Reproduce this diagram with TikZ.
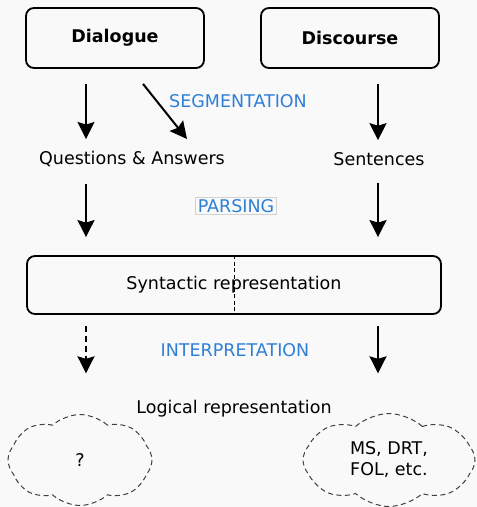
\documentclass[tikz,border=0pt]{standalone}
\usepackage{fontspec}
\setmainfont{DejaVu Sans}
\usetikzlibrary{shapes.symbols,arrows.meta}
\definecolor{stageblue}{HTML}{2E7FD6}
\definecolor{paper}{HTML}{F9F9F9}

\begin{document}
\begin{tikzpicture}[x=1pt,y=-1pt,every node/.style={inner sep=1pt},font=\fontsize{17.5}{21}\selectfont]
\tikzstyle{box}=[draw,line width=1.8pt,rounded corners=8pt,minimum width=178pt,minimum height=60pt,font=\fontsize{17.5}{21}\selectfont\bfseries]
\tikzstyle{arrow}=[draw,line width=2pt,-{Stealth[length=17pt,width=17pt,inset=2.5pt]}]
\tikzstyle{stage}=[text=stageblue]
\tikzstyle{cloudy}=[draw,dash pattern=on 5pt off 3.5pt,line width=1pt,gray!50!black,text=black,cloud,cloud puffs=8,cloud puff arc=85,cloud ignores aspect]
\useasboundingbox[fill=paper](0,0) rectangle (477,507);

\coordinate(lc) at (86,0);
\coordinate(rc) at (378,0);

\node[box](dia) at (115,38){Dialogue};
\node[box](dis) at (350,38){Discourse};
\node(qa) at (132,159){Questions \& Answers};
\node(sen) at (379,159){Sentences};
\node[box,font=\fontsize{17.5}{21}\selectfont,minimum width=414pt,minimum height=58pt](syn) at (234,285){Syntactic representation};
\node(log) at (234,409){Logical representation};
\node[cloudy,minimum width=144pt,minimum height=91pt](unk) at (80,460){?};
\node[cloudy,minimum width=172pt,minimum height=93pt,align=center](fol) at (389,460){MS, DRT,\\FOL, etc.};

\node[stage](seg) at (238,101){SEGMENTATION};
\node[stage,draw=gray!35,line width=0.6pt,inner sep=2pt](par) at (236,206){PARSING};
\node[stage](int) at (235,350){INTERPRETATION};

\draw[dash pattern=on 4pt off 2.5pt,line width=1pt](syn.north)--(syn.south);

\path[arrow,shorten <=15pt,shorten >=11pt](dia.south -| lc)--(qa.north -| lc);
\path[arrow,shorten <=15pt,shorten >=11pt](dis.south -| rc)--(sen.north -| rc);
\path[arrow]([xshift=28pt,yshift=-15pt]dia.south)--([xshift=55pt,yshift=11pt]qa.north);

\path[arrow,shorten <=16pt,shorten >=18pt](qa.south -| lc)--(syn.north -| lc);
\path[arrow,shorten <=16pt,shorten >=18pt](sen.south -| rc)--(syn.north -| rc);

\path[arrow,dash pattern=on 6pt off 4pt,shorten <=11pt,shorten >=26pt](syn.south -| lc)--(log.north -| lc);
\path[arrow,shorten <=11pt,shorten >=26pt](syn.south -| rc)--(log.north -| rc);
\end{tikzpicture}
\end{document}
